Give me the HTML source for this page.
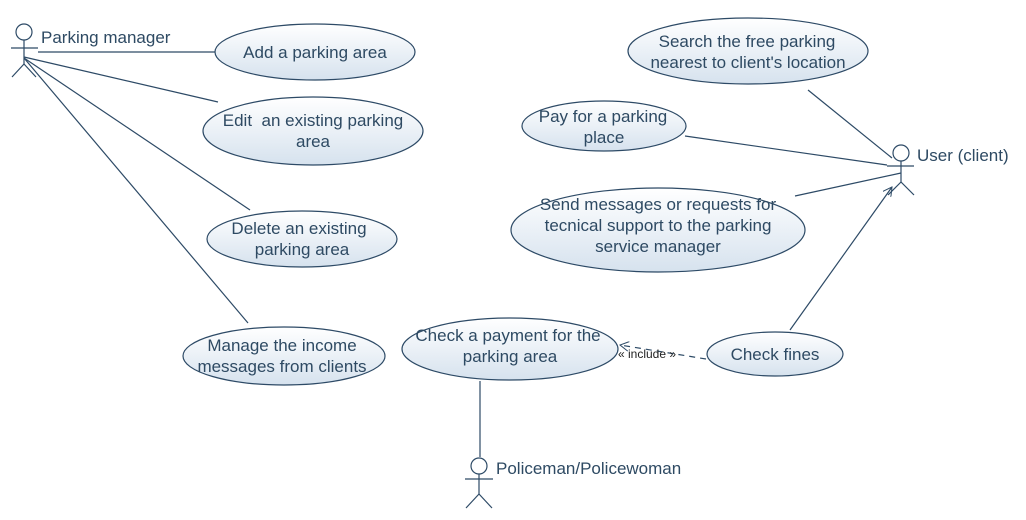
<!DOCTYPE html>
<html><head><meta charset="utf-8"><style>
body{margin:0;background:#fff}
svg{display:block}
text{font-family:"Liberation Sans",sans-serif;fill:#2e4a63}
</style></head><body>
<svg width="1026" height="520" viewBox="0 0 1026 520">
<defs>
<linearGradient id="g" x1="0" y1="0" x2="0" y2="1"><stop offset="0" stop-color="#ffffff"/><stop offset="1" stop-color="#d6e2ee"/></linearGradient>
<marker id="ar" markerWidth="10" markerHeight="10" refX="9" refY="5" orient="auto" markerUnits="userSpaceOnUse"><path d="M0,0 L9,5 L0,10" fill="none" stroke="#2d4a66" stroke-width="1"/></marker>
</defs>
<g stroke="#2d4a66" stroke-width="1.2" fill="none">
<line x1="38" y1="52" x2="215" y2="52"/>
<line x1="24" y1="57" x2="218" y2="102"/>
<line x1="24" y1="58" x2="250" y2="210"/>
<line x1="24" y1="58" x2="248" y2="323"/>
<line x1="808" y1="90" x2="892" y2="158"/>
<line x1="685" y1="136" x2="887" y2="165"/>
<line x1="795" y1="196" x2="901" y2="173"/>
<line x1="790" y1="330" x2="892" y2="187" marker-end="url(#ar)"/>
<line x1="480" y1="381" x2="480" y2="457"/>
<line x1="706" y1="359" x2="620" y2="345" stroke-dasharray="6,5" marker-end="url(#ar)"/>
</g>
<g stroke="#2d4a66" stroke-width="1.2" fill="url(#g)">
<ellipse cx="315" cy="52" rx="100" ry="28"/>
<ellipse cx="313" cy="131" rx="110" ry="34"/>
<ellipse cx="302" cy="239" rx="95" ry="28"/>
<ellipse cx="284" cy="356" rx="101" ry="29"/>
<ellipse cx="748" cy="51" rx="120" ry="33"/>
<ellipse cx="604" cy="126" rx="82" ry="25"/>
<ellipse cx="658" cy="230" rx="147" ry="42"/>
<ellipse cx="510" cy="349" rx="108" ry="31"/>
<ellipse cx="775" cy="354" rx="68" ry="22"/>
</g>
<g stroke="#2d4a66" stroke-width="1.2" fill="#fff">
<g><circle cx="24" cy="32" r="8"/><line x1="24" y1="40" x2="24" y2="64"/><line x1="11" y1="48" x2="38" y2="48"/><line x1="24" y1="64" x2="12" y2="77"/><line x1="24" y1="64" x2="36" y2="77"/></g>
<g><circle cx="901" cy="153" r="8"/><line x1="901" y1="161" x2="901" y2="182"/><line x1="887" y1="166" x2="914" y2="166"/><line x1="901" y1="182" x2="888" y2="195"/><line x1="901" y1="182" x2="914" y2="195"/></g>
<g><circle cx="479" cy="466" r="8"/><line x1="479" y1="474" x2="479" y2="494"/><line x1="465" y1="479" x2="493" y2="479"/><line x1="479" y1="494" x2="466" y2="508"/><line x1="479" y1="494" x2="492" y2="508"/></g>
</g>
<g font-size="17" text-anchor="middle">
<text x="315" y="58">Add a parking area</text>
<text x="313" y="126">Edit &#160;an existing parking</text>
<text x="313" y="147">area</text>
<text x="299" y="234">Delete an existing</text>
<text x="302" y="255">parking area</text>
<text x="282" y="351">Manage the income</text>
<text x="282" y="372">messages from clients</text>
<text x="747" y="47">Search the free parking</text>
<text x="748" y="68">nearest to client's location</text>
<text x="603" y="122">Pay for a parking</text>
<text x="604" y="143">place</text>
<text x="658" y="210">Send messages or requests for</text>
<text x="658" y="231">tecnical support to the parking</text>
<text x="658" y="252">service manager</text>
<text x="508" y="341">Check a payment for the</text>
<text x="510" y="362">parking area</text>
<text x="775" y="360">Check fines</text>
</g>
<g font-size="17">
<text x="41" y="43">Parking manager</text>
<text x="917" y="161">User (client)</text>
<text x="496" y="474">Policeman/Policewoman</text>
</g>
<text x="647" y="358" font-size="12" text-anchor="middle" style="fill:#222">« include »</text>
</svg>
</body></html>
